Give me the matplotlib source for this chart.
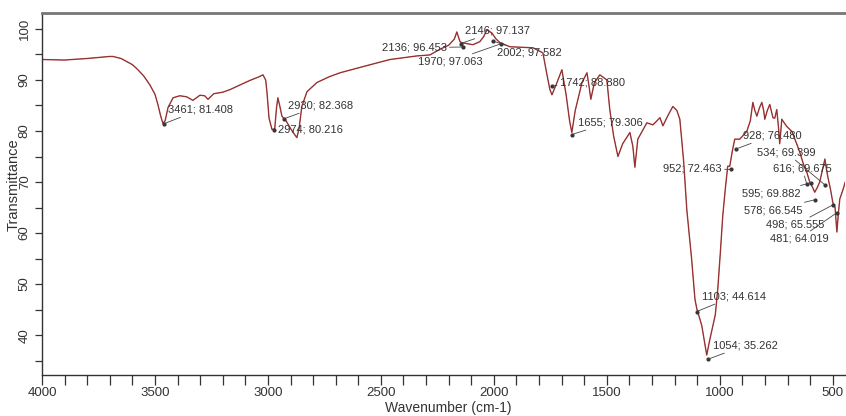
import numpy as np
import matplotlib
matplotlib.use('Agg')
import matplotlib.pyplot as plt
from matplotlib.ticker import MultipleLocator

plt.rcParams['font.family'] = ['Liberation Sans', 'DejaVu Sans']

# spectrum (wavenumber cm-1, transmittance %)
wavenumber = [4000, 3900, 3800, 3750, 3700, 3686, 3650, 3600, 3580, 3550, 3522, 3500,
              3487, 3475, 3465, 3455, 3442, 3420, 3390, 3360, 3332, 3301, 3280, 3265,
              3240, 3200, 3168, 3124, 3080, 3040, 3022, 3010, 3004, 2995, 2982, 2970,
              2962, 2956, 2948, 2938, 2920, 2900, 2885, 2872, 2862, 2850, 2827, 2783,
              2730, 2681, 2580, 2460, 2341, 2283, 2239, 2200, 2175, 2164, 2150, 2142,
              2093, 2062, 2045, 2031, 2009, 1990, 1973, 1929, 1827, 1783, 1765, 1752,
              1743, 1725, 1699, 1680, 1665, 1655, 1640, 1610, 1588, 1578, 1571, 1555,
              1531, 1500, 1487, 1470, 1451, 1430, 1398, 1385, 1376, 1363, 1323, 1296,
              1265, 1252, 1230, 1208, 1190, 1177, 1160, 1146, 1125, 1110, 1102, 1080,
              1058, 1045, 1035, 1020, 1009, 998, 987, 975, 965, 956, 945, 934,
              912, 881, 865, 854, 845, 836, 825, 814, 806, 801, 790, 779,
              765, 757, 748, 740, 735, 730, 726, 704, 681, 660, 646, 630,
              615, 602, 590, 580, 568, 558, 545, 535, 528, 522, 510, 500,
              490, 482, 475, 469, 455, 445]
transmittance = [94.0, 93.9, 94.2, 94.4, 94.6, 94.6, 94.2, 93.0, 92.2, 90.8, 89.0, 87.2,
                 85.2, 83.0, 81.5, 82.0, 84.6, 86.5, 86.9, 86.7, 86.0, 87.0, 86.9, 86.2,
                 87.3, 87.6, 88.1, 89.0, 89.9, 90.6, 91.0, 90.0, 87.5, 82.5, 80.3, 80.4,
                 84.5, 86.5, 85.0, 82.9, 82.0, 80.5, 79.5, 78.7, 80.5, 84.8, 87.7, 89.5,
                 90.6, 91.4, 92.6, 94.0, 94.7, 94.9, 96.0, 96.8, 98.0, 99.4, 97.5, 97.3,
                 96.9, 97.5, 98.5, 99.8, 99.2, 98.0, 97.3, 96.5, 96.3, 95.3, 91.0, 88.1,
                 87.1, 89.0, 92.0, 87.0, 82.0, 79.7, 84.0, 89.5, 91.4, 88.5, 86.2, 89.5,
                 91.0, 90.0, 84.2, 79.0, 75.0, 77.5, 79.7, 77.0, 72.9, 78.4, 81.6, 81.2,
                 82.6, 81.0, 83.0, 84.8, 84.0, 82.3, 74.0, 64.5, 55.0, 47.0, 45.2, 41.9,
                 36.1, 39.0, 41.0, 44.0, 49.1, 56.0, 63.4, 69.0, 73.1, 73.1, 76.0, 78.4,
                 78.4, 79.9, 82.0, 85.6, 84.0, 82.9, 84.5, 85.6, 84.0, 82.3, 84.0, 85.2,
                 82.6, 82.5, 84.2, 80.5, 77.5, 80.0, 82.3, 80.9, 79.9, 77.5, 75.8, 73.5,
                 71.9, 70.0, 69.0, 68.0, 69.0, 70.0, 72.5, 74.5, 72.5, 71.0, 68.5, 66.0,
                 65.0, 60.2, 64.0, 66.7, 68.5, 70.0]

# peak labels as printed on the chart
peak_wn = [3461, 2930, 2974, 2136, 2146, 1970, 2002, 1742, 1655, 952, 928,
           534, 616, 595, 578, 498, 481, 1103, 1054]
peak_t = [81.408, 82.368, 80.216, 96.453, 97.137, 97.063, 97.582, 88.880, 79.306,
          72.463, 76.480, 69.399, 69.675, 69.882, 66.545, 65.555, 64.019, 44.614, 35.262]
# where each label text sits (wavenumber, transmittance, horizontal alignment)
label_pos = [(3442, 84.2, 'left'), (2912, 85.0, 'left'), (2956, 80.3, 'left'),
             (2496, 96.3, 'left'), (2128, 99.6, 'left'), (2336, 93.6, 'left'),
             (1987, 95.3, 'left'), (1708, 89.5, 'left'), (1628, 81.7, 'left'),
             (991, 72.7, 'right'), (898, 79.1, 'left'), (836, 75.8, 'left'),
             (765, 72.7, 'left'), (903, 67.8, 'left'), (894, 64.5, 'left'),
             (796, 61.6, 'left'), (779, 58.9, 'left'), (1080, 47.6, 'left'),
             (1031, 38.0, 'left')]

fig = plt.figure(figsize=(8.46, 4.16), dpi=100)
ax = fig.add_axes([0.0496, 0.0986, 0.9495, 0.870])

ax.plot(wavenumber, transmittance, color='#b03a3a', lw=1.0)
ax.plot(wavenumber, transmittance, color='#5a2a2a', lw=0.4, alpha=0.6)
ax.scatter(peak_wn, peak_t, s=4, color='#333333', zorder=3)

for w, t, (tx, ty, ha) in zip(peak_wn, peak_t, label_pos):
    ax.annotate(f'{w}; {t:.3f}', xy=(w, t), xytext=(tx, ty), ha=ha, va='center',
                fontsize=8, color='#333333',
                arrowprops=dict(arrowstyle='-', lw=0.6, color='#444444',
                                shrinkA=0, shrinkB=0))

ax.set_xlim(4000, 445)
ax.set_ylim(32.2, 103.1)
ax.xaxis.set_major_locator(MultipleLocator(500))
ax.xaxis.set_minor_locator(MultipleLocator(100))
ax.yaxis.set_major_locator(MultipleLocator(10))
ax.yaxis.set_minor_locator(MultipleLocator(5))
ax.yaxis.set_major_formatter(plt.FuncFormatter(lambda v, p: f'{v:.0f}'))

ax.tick_params(which='both', direction='out', width=0.9, color='#333333',
               labelsize=9.5, labelcolor='#333333')
ax.tick_params(axis='x', which='both', length=7, pad=2)
ax.tick_params(axis='y', which='both', length=5, labelrotation=90, pad=3)
for lbl in ax.get_yticklabels():
    lbl.set_va('center')

for side in ['left', 'bottom']:
    ax.spines[side].set_color('#333333')
    ax.spines[side].set_linewidth(1.0)
ax.spines['top'].set_color('#777777')
ax.spines['top'].set_linewidth(2.0)
ax.spines['right'].set_visible(False)

ax.set_xlabel('Wavenumber (cm-1)', fontsize=10, color='#333333')
ax.set_ylabel('Transmittance', fontsize=10.5, color='#333333')
ax.xaxis.set_label_coords(0.506, -0.072)
ax.yaxis.set_label_coords(-0.026, 0.527)

fig.savefig('out.png', dpi=100)
